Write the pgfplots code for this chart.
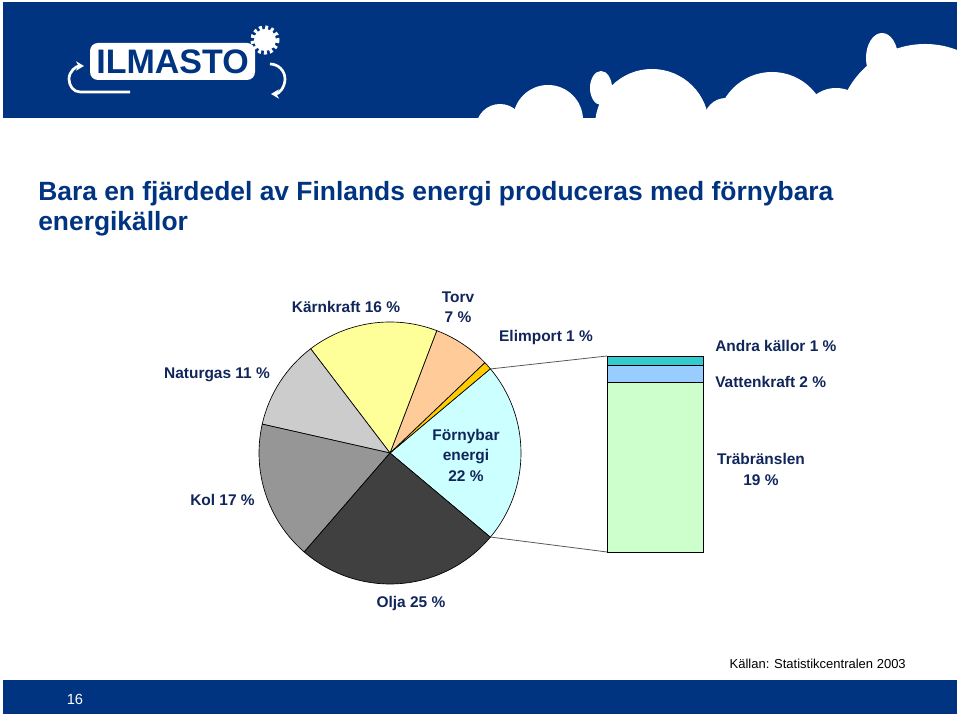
\documentclass[border=0pt]{standalone}
\usepackage{pgfplots}
\pgfplotsset{compat=1.18}
\usepackage{fontspec}
\setmainfont{Liberation Sans}
\usetikzlibrary{arrows.meta}
\definecolor{banner}{RGB}{0,51,128}
\definecolor{titlec}{RGB}{0,51,128}
\definecolor{lab}{RGB}{16,38,90}
\definecolor{cF}{RGB}{204,255,255}
\definecolor{cE}{RGB}{255,204,0}
\definecolor{cT}{RGB}{255,204,153}
\definecolor{cK}{RGB}{255,255,153}
\definecolor{cN}{RGB}{204,204,204}
\definecolor{cKo}{RGB}{150,150,150}
\definecolor{cO}{RGB}{64,64,64}
\definecolor{cA}{RGB}{51,204,204}
\definecolor{cV}{RGB}{153,204,255}
\definecolor{cTr}{RGB}{204,255,204}
% pie values (percent); total of the rounded values
\newcommand\pietotal{99}
\newcommand\pierad{98.25pt}
% #1 cumulative start (percent, from -Förnybar/2), #2 value, #3 colour
\newcommand\slice[3]{%
  \pgfmathsetmacro\sa{(#1)/\pietotal*360}%
  \pgfmathsetmacro\da{(#2)/\pietotal*360}%
  \filldraw[fill=#3, draw=black, line width=0.5pt] (pc) -- ++(\sa:\pierad)
    arc[start angle=\sa, delta angle=\da, radius=\pierad] -- cycle;}
\newcommand\lbl{\fontsize{11.6}{13.9}\selectfont\bfseries\color{lab}}
\begin{document}
\begin{tikzpicture}
% ---------- pie: centre taken from its axis ----------
\begin{axis}[at={(194.25pt,99pt)}, anchor=south west, scale only axis, width=196.5pt, height=196.5pt,
  xmin=-1, xmax=1, ymin=-1, ymax=1, hide axis, clip=false]
  \addplot[draw=none] coordinates {(0,0)};
  \coordinate (pc) at (axis cs:0,0);
\end{axis}
% Förnybar 22, Elimport 1, Torv 7, Kärnkraft 16, Naturgas 11, Kol 17, Olja 25
\slice{-11}{22}{cF}
\slice{11}{1}{cE}
\slice{12}{7}{cT}
\slice{19}{16}{cK}
\slice{35}{11}{cN}
\slice{46}{17}{cKo}
\slice{63}{25}{cO}
% ---------- stacked bar: breakdown of renewable energy ----------
\begin{axis}[at={(455.25pt,123pt)}, anchor=south west, scale only axis, width=72pt, height=147pt,
  xmin=-0.5, xmax=0.5, ymin=0, ymax=22, hide axis, clip=false, ybar stacked, bar width=72pt]
  \addplot[fill=cTr, draw=black, line width=0.5pt] coordinates {(0,19)};
  \addplot[fill=cV, draw=black, line width=0.5pt] coordinates {(0,2)};
  \addplot[fill=cA, draw=black, line width=0.5pt] coordinates {(0,1)};
\end{axis}
% ---------- slide decoration and texts (pixel scope) ----------
\begin{scope}[x=0.75pt, y=-0.75pt, shift={(0,537pt)}]
  % connector lines
  \draw[black!65, line width=0.6pt] (490,369) -- (607,356);
  \draw[black!65, line width=0.6pt] (490,537) -- (607,552);
  % top banner with clouds
  \fill[banner] (3,2) rectangle (957,118);
  \begin{scope}
    \clip (3,2) rectangle (957,118);
    \fill[white] (500,128) circle[radius=24];
    \fill[white] (548,120) circle[radius=35];
    \fill[white] (601,88) ellipse[x radius=11, y radius=17];
    \fill[white] (652,126) circle[radius=57];
    \fill[white] (726,120) circle[radius=22];
    \fill[white] (772,127) circle[radius=55];
    \fill[white] (836,122) circle[radius=34];
    \fill[white] (882,58) ellipse[x radius=16, y radius=25];
    \fill[white] (925,132) circle[radius=88];
  \end{scope}
  % logo
  \fill[white] (265,40) circle[radius=11];
  \draw[white, line width=3.2pt, dash pattern=on 2.2pt off 2.2pt] (265,40) circle[radius=12.5];
  \fill[white, rounded corners=6] (90,43) rectangle (255,80);
  \node[text=banner, font=\fontsize{25.5}{26}\selectfont\bfseries] at (172.5,62) {ILMASTO};
  \draw[white, line width=2pt, -{Stealth[length=6pt,width=7pt]}] (130,92) -- (80,92) to[out=180,in=270] (69,79) to[out=90,in=180] (84,66);
  \draw[white, line width=2pt, -{Stealth[length=6pt,width=7pt]}] (270,64) to[out=0,in=90] (285,79) to[out=270,in=0] (271,94);
  % title
  \node[anchor=base west, text=titlec, font=\fontsize{19.8}{23}\selectfont\bfseries, inner sep=0] at (38,201)
    {Bara en fjärdedel av Finlands energi produceras med förnybara};
  \node[anchor=base west, text=titlec, font=\fontsize{19.8}{23}\selectfont\bfseries, inner sep=0] at (38,231)
    {energikällor};
  % pie labels
  \node[anchor=base, font=\lbl, inner sep=0] at (346,313) {Kärnkraft 16 \%};
  \node[anchor=base, font=\lbl, inner sep=0] at (458,303) {Torv};
  \node[anchor=base, font=\lbl, inner sep=0] at (458,323) {7 \%};
  \node[anchor=base, font=\lbl, inner sep=0] at (546,342) {Elimport 1 \%};
  \node[anchor=base, font=\lbl, inner sep=0] at (217,379) {Naturgas 11 \%};
  \node[anchor=base east, font=\lbl, inner sep=0] at (255,506) {Kol 17 \%};
  \node[anchor=base, font=\lbl, inner sep=0] at (411,608) {Olja 25 \%};
  \node[anchor=base, font=\lbl, inner sep=0] at (466,441) {Förnybar};
  \node[anchor=base, font=\lbl, inner sep=0] at (466,461) {energi};
  \node[anchor=base, font=\lbl, inner sep=0] at (466,482) {22 \%};
  % bar labels
  \node[anchor=base west, font=\lbl, inner sep=0] at (715,352) {Andra källor 1 \%};
  \node[anchor=base west, font=\lbl, inner sep=0] at (715,388) {Vattenkraft 2 \%};
  \node[anchor=base, font=\lbl, inner sep=0] at (761,465) {Träbränslen};
  \node[anchor=base, font=\lbl, inner sep=0] at (761,486) {19 \%};
  % source
  \node[anchor=base east, font=\fontsize{9.75}{11}\selectfont, inner sep=0] at (906,669) {Källan: Statistikcentralen 2003};
  % footer banner
  \fill[banner] (3,680) rectangle (957,714);
  \node[anchor=base, text=white, font=\fontsize{11}{12}\selectfont, inner sep=0] at (75,705) {16};
\end{scope}
\pgfresetboundingbox
\useasboundingbox (0,0) rectangle (720pt,537pt);
\end{tikzpicture}
\end{document}
